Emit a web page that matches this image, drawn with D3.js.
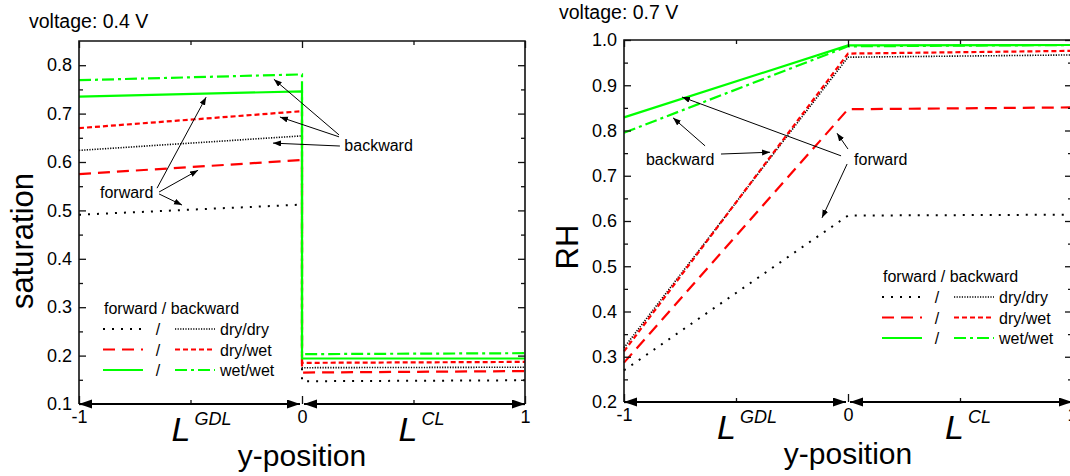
<!DOCTYPE html>
<html>
<head>
<meta charset="utf-8">
<script src="https://cdn.jsdelivr.net/npm/d3@7"></script>
<style>
  body { margin: 0; background: #fff; }
  svg { display: block; font-family: "Liberation Sans", Arial, sans-serif; }
</style>
</head>
<body>
<svg id="chart" width="1070" height="476"></svg>
<script>
// positions across the two layers: GDL runs from -1 to 0, CL from 0 to 1
const satX = [-1, 0, 0, 1];
const rhX = [-1, 0, 1];

// liquid saturation at 0.4 V (value jumps down at the GDL/CL interface)
const satFwdDryDry = [0.491, 0.512, 0.147, 0.149];
const satBwdDryDry = [0.624, 0.654, 0.175, 0.176];
const satFwdDryWet = [0.575, 0.604, 0.165, 0.168];
const satBwdDryWet = [0.670, 0.705, 0.185, 0.187];
const satFwdWetWet = [0.735, 0.746, 0.194, 0.194];
const satBwdWetWet = [0.769, 0.781, 0.203, 0.205];

// relative humidity at 0.7 V
const rhFwdDryDry = [0.270, 0.612, 0.614];
const rhBwdDryDry = [0.320, 0.962, 0.967];
const rhFwdDryWet = [0.287, 0.847, 0.851];
const rhBwdDryWet = [0.312, 0.970, 0.976];
const rhFwdWetWet = [0.829, 0.988, 0.989];
const rhBwdWetWet = [0.795, 0.986, 0.989];

const satTicks = [0.1, 0.2, 0.3, 0.4, 0.5, 0.6, 0.7, 0.8];
const rhTicks = [0.2, 0.3, 0.4, 0.5, 0.6, 0.7, 0.8, 0.9, 1.0];
const xTicks = [-1, 0, 1];
const xMinor = [-0.5, 0.5];

const legendRows = ["dry/dry", "dry/wet", "wet/wet"];

// annotation labels and pointer arrows, in data units [x1, y1, x2, y2]
const satNotes = [{ text: "backward", x: 0.19, y: 0.622 }, { text: "forward", x: -0.906, y: 0.525 }];
const satPointers = [
  [0.166, 0.656, -0.126, 0.771],
  [0.166, 0.652, -0.099, 0.693],
  [0.170, 0.633, -0.130, 0.639],
  [-0.650, 0.546, -0.430, 0.734],
  [-0.641, 0.538, -0.466, 0.583],
  [-0.641, 0.534, -0.538, 0.511]
];
const rhNotes = [{ text: "backward", x: -0.902, y: 0.724 }, { text: "forward", x: 0.027, y: 0.724 }];
const rhPointers = [
  [-0.567, 0.748, -0.348, 0.752],
  [-0.638, 0.766, -0.781, 0.828],
  [-0.031, 0.744, -0.741, 0.874],
  [0.000, 0.759, -0.049, 0.794],
  [-0.004, 0.726, -0.116, 0.607]
];

// line looks for each case
const looks = {
  fwdDryDry: { stroke: "#000", width: 2, dash: "2,7" },
  bwdDryDry: { stroke: "#000", width: 1.6, dash: "1.2,1.4" },
  fwdDryWet: { stroke: "#ff0000", width: 2.2, dash: "12,7" },
  bwdDryWet: { stroke: "#ff0000", width: 2.2, dash: "5,3" },
  fwdWetWet: { stroke: "#00ff00", width: 2.2, dash: null },
  bwdWetWet: { stroke: "#00ff00", width: 2.2, dash: "12,4,3,4" }
};
const legendPairs = [["fwdDryDry", "bwdDryDry"], ["fwdDryWet", "bwdDryWet"], ["fwdWetWet", "bwdWetWet"]];

const svg = d3.select("#chart");
const FONT = "'Liberation Sans', Arial, sans-serif";

const defs = svg.append("defs");
defs.append("marker")
  .attr("id", "axHead")
  .attr("markerUnits", "userSpaceOnUse")
  .attr("markerWidth", 14).attr("markerHeight", 10)
  .attr("refX", 13).attr("refY", 4.5)
  .attr("orient", "auto-start-reverse")
  .append("path").attr("d", "M0,0L13,4.5L0,9Z").attr("fill", "#000");
defs.append("marker")
  .attr("id", "noteHead")
  .attr("markerUnits", "userSpaceOnUse")
  .attr("markerWidth", 9).attr("markerHeight", 7)
  .attr("refX", 8).attr("refY", 3)
  .attr("orient", "auto")
  .append("path").attr("d", "M0,0L8,3L0,6Z").attr("fill", "#000");

function drawPanel(o) {
  const g = svg.append("g").attr("transform", `translate(${o.left},${o.top})`);
  const x = d3.scaleLinear().domain([-1, 1]).range([0, o.width]);
  const y = d3.scaleLinear().domain(o.yDomain).range([o.height, 0]);

  // data lines
  const line = d3.line().x((d, i) => x(o.xs[i])).y(d => y(d));
  o.series.forEach(s => {
    const lk = looks[s.key];
    g.append("path")
      .datum(s.values)
      .attr("d", line)
      .attr("fill", "none")
      .attr("stroke", lk.stroke)
      .attr("stroke-width", lk.width)
      .attr("stroke-dasharray", lk.dash);
  });

  // frame: left, top, right
  g.append("path")
    .attr("d", `M0,${o.height}V0H${o.width}V${o.height}`)
    .attr("fill", "none").attr("stroke", "#111").attr("stroke-width", 1.6);

  const tidy = sel => {
    sel.select(".domain").remove();
    sel.selectAll("line").attr("stroke", "#111").attr("stroke-width", 1.3);
    sel.selectAll("text").attr("font-family", FONT).attr("font-size", 18).attr("fill", "#000");
  };
  const minorY = d3.range(o.yDomain[0] + 0.05, o.yDomain[1], 0.1);

  g.append("g").call(d3.axisLeft(y).tickValues(o.yTicks).tickSize(-7).tickPadding(7).tickFormat(d3.format(".1f"))).call(tidy);
  g.append("g").call(d3.axisLeft(y).tickValues(minorY).tickSize(-4).tickFormat("")).call(tidy);
  g.append("g").attr("transform", `translate(${o.width},0)`)
    .call(d3.axisRight(y).tickValues(o.yTicks).tickSize(-7).tickFormat("")).call(tidy);
  g.append("g").attr("transform", `translate(${o.width},0)`)
    .call(d3.axisRight(y).tickValues(minorY).tickSize(-4).tickFormat("")).call(tidy);
  g.append("g").call(d3.axisTop(x).tickValues(xTicks).tickSize(-7).tickFormat("")).call(tidy);
  g.append("g").call(d3.axisTop(x).tickValues(xMinor).tickSize(-4).tickFormat("")).call(tidy);
  g.append("g").attr("transform", `translate(0,${o.height})`)
    .call(d3.axisBottom(x).tickValues(xTicks).tickSizeInner(-8).tickSizeOuter(0).tickPadding(6)
      .tickFormat(d => String(d))).call(tidy);
  g.append("g").attr("transform", `translate(0,${o.height})`)
    .call(d3.axisBottom(x).tickValues(xMinor).tickSize(-4).tickFormat("")).call(tidy);

  // layer-thickness arrows along the bottom
  [[-1, 0], [0, 1]].forEach(([a, b]) => {
    g.append("line")
      .attr("x1", x(a) + (a === 0 ? 2 : 0)).attr("x2", x(b) - (b === 0 ? 2 : 0))
      .attr("y1", o.height).attr("y2", o.height)
      .attr("stroke", "#000").attr("stroke-width", 2)
      .attr("marker-start", "url(#axHead)").attr("marker-end", "url(#axHead)");
  });

  const layerLabel = (cx, dx, sup) => {
    const t = g.append("text")
      .attr("x", x(cx) + dx).attr("y", o.height + 37)
      .attr("font-family", FONT).attr("font-style", "italic");
    t.append("tspan").attr("font-size", 34).text("L");
    t.append("tspan").attr("font-size", 18).attr("dx", 4).attr("dy", -16).text(sup);
  };
  layerLabel(-0.5, -19, "GDL");
  layerLabel(0.5, -15, "CL");

  g.append("text")
    .attr("x", x(0)).attr("y", o.height + 62)
    .attr("text-anchor", "middle")
    .attr("font-family", FONT).attr("font-size", 30)
    .text("y-position");

  g.append("text")
    .attr("transform", `translate(${o.yLabelX},${o.yLabelY}) rotate(-90)`)
    .attr("text-anchor", "middle")
    .attr("font-family", FONT).attr("font-size", 31)
    .text(o.yLabel);

  svg.append("text")
    .attr("x", o.titleX).attr("y", o.titleY)
    .attr("font-family", FONT).attr("font-size", 19.5)
    .text(o.title);

  // callouts
  o.notes.forEach(n => {
    g.append("text")
      .attr("x", x(n.x)).attr("y", y(n.y))
      .attr("font-family", FONT).attr("font-size", 16)
      .text(n.text);
  });
  o.pointers.forEach(p => {
    g.append("line")
      .attr("x1", x(p[0])).attr("y1", y(p[1]))
      .attr("x2", x(p[2])).attr("y2", y(p[3]))
      .attr("stroke", "#000").attr("stroke-width", 1)
      .attr("marker-end", "url(#noteHead)");
  });

  // legend
  const lg = g.append("g").attr("transform", `translate(${o.legendX},${o.legendY})`);
  lg.append("text").attr("x", 1).attr("y", -15)
    .attr("font-family", FONT).attr("font-size", 16).text("forward / backward");
  legendPairs.forEach((pair, i) => {
    const row = lg.append("g").attr("transform", `translate(0,${i * 20.5})`);
    [[0, 40], [72, 112]].forEach(([a, b], j) => {
      const lk = looks[pair[j]];
      row.append("line")
        .attr("x1", a).attr("x2", b).attr("y1", 0).attr("y2", 0)
        .attr("stroke", lk.stroke).attr("stroke-width", lk.width)
        .attr("stroke-dasharray", lk.dash);
    });
    row.append("text").attr("x", 55).attr("y", 6).attr("text-anchor", "middle")
      .attr("font-family", FONT).attr("font-size", 16).text("/");
    row.append("text").attr("x", 117).attr("y", 6)
      .attr("font-family", FONT).attr("font-size", 16).text(legendRows[i]);
  });
}

drawPanel({
  left: 79, top: 41, width: 446, height: 363,
  yDomain: [0.1, 0.85], yTicks: satTicks,
  xs: satX,
  series: [
    { key: "fwdDryDry", values: satFwdDryDry },
    { key: "bwdDryDry", values: satBwdDryDry },
    { key: "fwdDryWet", values: satFwdDryWet },
    { key: "bwdDryWet", values: satBwdDryWet },
    { key: "bwdWetWet", values: satBwdWetWet },
    { key: "fwdWetWet", values: satFwdWetWet }
  ],
  notes: satNotes, pointers: satPointers,
  yLabel: "saturation", yLabelX: -46, yLabelY: 200,
  title: "voltage: 0.4 V", titleX: 29, titleY: 28,
  legendX: 24, legendY: 288
});

drawPanel({
  left: 624, top: 40, width: 448, height: 362,
  yDomain: [0.2, 1.0], yTicks: rhTicks,
  xs: rhX,
  series: [
    { key: "fwdDryDry", values: rhFwdDryDry },
    { key: "bwdDryDry", values: rhBwdDryDry },
    { key: "fwdDryWet", values: rhFwdDryWet },
    { key: "bwdDryWet", values: rhBwdDryWet },
    { key: "bwdWetWet", values: rhBwdWetWet },
    { key: "fwdWetWet", values: rhFwdWetWet }
  ],
  notes: rhNotes, pointers: rhPointers,
  yLabel: "RH", yLabelX: -46, yLabelY: 207,
  title: "voltage: 0.7 V", titleX: 559, titleY: 19,
  legendX: 258, legendY: 257
});
</script>
</body>
</html>
